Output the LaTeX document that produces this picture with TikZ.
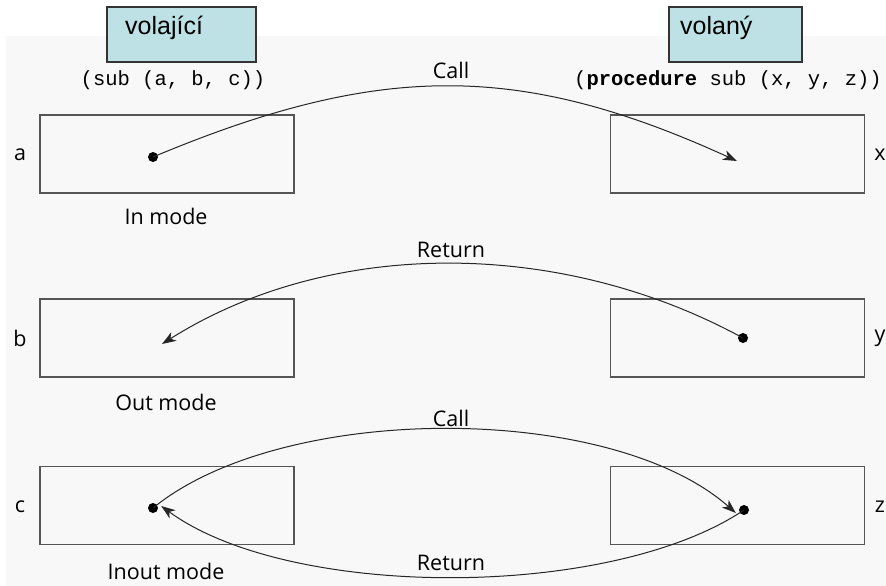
\documentclass[tikz,border=0pt]{standalone}
\usepackage{fontspec}
\setmainfont{Open Sans}
\newfontfamily\arialf{Liberation Sans}
\newfontfamily\courf{Liberation Mono}
\usetikzlibrary{arrows.meta}
\definecolor{panel}{HTML}{F8F8F8}
\definecolor{hdrfill}{HTML}{BDE1E4}
\definecolor{frame}{HTML}{555555}
\tikzset{
  x=1pt,y=-1pt,
  hdr/.style={draw=black!80,line width=1.2pt,fill=hdrfill,minimum width=#1,minimum height=55,inner sep=0pt},
  hdrtext/.style={font=\arialf\fontsize{25}{27}\selectfont,inner sep=0pt,anchor=base west},
  cell/.style={draw=frame,line width=1.5pt,minimum width=254,minimum height=78,inner sep=0pt},
  lbl/.style={font=\fontsize{21.5}{23}\selectfont,inner sep=0pt},
  code/.style={font=\courf\fontsize{20.5}{22}\selectfont,inner sep=0pt},
  dot/.style={circle,fill=black,inner sep=0pt,minimum size=10},
  flow/.style={draw=black!85,line width=1pt,-{Stealth[length=14pt,width=10pt,inset=4pt]}},
}
\begin{document}
\begin{tikzpicture}
\useasboundingbox (0,0) rectangle (886,586);
\fill[white] (0,0) rectangle (886,586);
\fill[panel] (6,36) rectangle (886,586);
% headers
\node[hdr=149] (caller) at (181.5,34.5) {};
\node[hdrtext] (callertxt) at (125,35) {volající};
\node[hdr=133] (callee) at (735.5,34.5) {};
\node[hdrtext] (calleetxt) at (680,35) {volaný};
\node[code] (csig) at (173,80) {(sub (a, b, c))};
\node[code] (psig) at (728,80) {(\textbf{procedure} sub (x, y, z))};
% cells
\node[cell] (la) at (167,154) {};
\node[cell] (ra) at (737.5,154) {};
\node[cell] (lb) at (167,338) {};
\node[cell] (rb) at (737.5,338) {};
\node[cell] (lc) at (167,505.5) {};
\node[cell] (rc) at (737.5,505.5) {};
% side labels
\node[lbl] (na) at (20,155) {a};
\node[lbl] (nx) at (880,155) {x};
\node[lbl] (nb) at (20,338) {b};
\node[lbl] (ny) at (880,338) {y};
\node[lbl] (nc) at (20,507) {c};
\node[lbl] (nz) at (880,507) {z};
% mode labels
\node[lbl] (m1) at (166,216) {In mode};
\node[lbl] (m2) at (166,402) {Out mode};
\node[lbl] (m3) at (166,571) {Inout mode};
% dots and endpoints
\node[dot] (da) at (153,157) {};
\coordinate (ex) at (737,161);
\node[dot] (dy) at (743,338) {};
\coordinate (eb) at (162,344);
\node[dot] (dc) at (153,508) {};
\node[dot] (dz) at (744,510) {};
% arrows
\draw[flow] (da.center) .. controls (380,62) and (520,62) .. (ex);
\node[lbl] (t1) at (451,70) {Call};
\draw[flow] (dy.center) .. controls (560,238) and (330,238) .. (eb);
\node[lbl] (t2) at (451,250) {Return};
\draw[flow] (dc.center) .. controls (283,402) and (610,402) .. ([xshift=-3pt,yshift=-3pt]dz.west);
\node[lbl] (t3) at (451,418) {Call};
\draw[flow] (dz.center) .. controls (610,600) and (290,600) .. ([xshift=3pt,yshift=2pt]dc.east);
\node[lbl] (t4) at (451,563) {Return};
\end{tikzpicture}
\end{document}
